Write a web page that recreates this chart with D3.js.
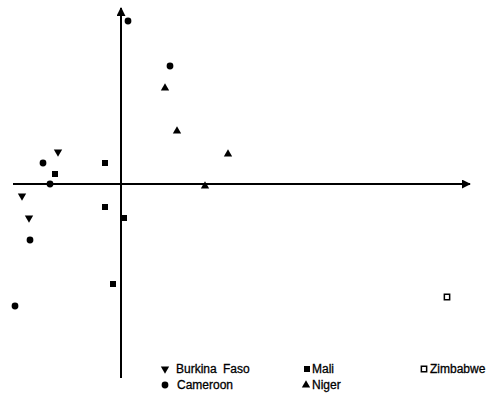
<!DOCTYPE html>
<html>
<head>
<meta charset="utf-8">
<script src="https://cdn.jsdelivr.net/npm/d3@7"></script>
<style>
  body { margin: 0; background: #fff; }
  text { font-family: "Liberation Sans", Arial, sans-serif; }
</style>
</head>
<body>
<div id="chart"></div>
<script>
// factor scores per country (dimensionless)
const burkina = [[-0.63, 0.32], [-0.99, -0.12], [-0.92, -0.34]];
const cameroon = [[0.07, 1.63], [0.49, 1.18], [-0.78, 0.21], [-0.71, 0.0], [-0.91, -0.56], [-1.06, -1.22]];
const mali = [[-0.66, 0.10], [-0.16, 0.21], [-0.16, -0.23], [0.03, -0.34], [-0.08, -1.00]];
const niger = [[0.44, 0.96], [0.56, 0.53], [1.07, 0.30], [0.84, -0.02]];
const zimbabwe = [[3.26, -1.13]];

const countries = ["Burkina Faso", "Cameroon", "Mali", "Niger", "Zimbabwe"];
const seriesData = [burkina, cameroon, mali, niger, zimbabwe];

const ctx = { w: 500, h: 398 };

const svg = d3.select("#chart").append("svg")
    .attr("width", ctx.w).attr("height", ctx.h);

const x = d3.scaleLinear().domain([-1.08, 3.49]).range([13, 470]);
const y = d3.scaleLinear().domain([-1.94, 1.76]).range([378, 8]);

// arrowheads
svg.append("defs").append("marker")
    .attr("id", "arrow")
    .attr("viewBox", "0 0 10 10")
    .attr("refX", 9).attr("refY", 5)
    .attr("markerWidth", 4.5).attr("markerHeight", 4.5)
    .attr("markerUnits", "strokeWidth")
    .attr("orient", "auto")
  .append("path")
    .attr("d", "M0,0 L10,5 L0,10 z")
    .attr("fill", "#000");

// axes through the origin
svg.append("line")
    .attr("x1", x(-1.08)).attr("x2", x(3.49))
    .attr("y1", y(0)).attr("y2", y(0))
    .attr("stroke", "#000").attr("stroke-width", 2)
    .attr("marker-end", "url(#arrow)");
svg.append("line")
    .attr("x1", x(0)).attr("x2", x(0))
    .attr("y1", y(-1.94)).attr("y2", y(1.76))
    .attr("stroke", "#000").attr("stroke-width", 2)
    .attr("marker-end", "url(#arrow)");

const symTypes = [d3.symbolTriangle, d3.symbolCircle, d3.symbolSquare, d3.symbolTriangle, d3.symbolSquare];
const symSizes = [30, 36, 36, 30, 28];
const symRotate = [180, 0, 0, 0, 0];
const symFill = ["#000", "#000", "#000", "#000", "#fff"];

function drawSym(g, i, px, py) {
    g.append("path")
        .attr("d", d3.symbol().type(symTypes[i]).size(symSizes[i])())
        .attr("transform", "translate(" + px + "," + py + ") rotate(" + symRotate[i] + ")")
        .attr("fill", symFill[i])
        .attr("stroke", "#000")
        .attr("stroke-width", i == 4 ? 1.5 : 0);
}

const pts = svg.append("g");
seriesData.forEach(function(arr, i) {
    arr.forEach(function(d) {
        drawSym(pts, i, x(d[0]), y(d[1]));
    });
});

// legend
const legPos = [[165, 373], [165, 389], [307, 373], [306, 389], [424, 373]];
const legGap = [11, 12, 5, 6, 6];
const legend = svg.append("g");
countries.forEach(function(name, i) {
    const lx = legPos[i][0], ly = legPos[i][1];
    drawSym(legend, i, lx, ly - 4);
    legend.append("text")
        .attr("x", lx + legGap[i])
        .attr("y", ly)
        .attr("font-size", "12px")
        .attr("stroke", "#000").attr("stroke-width", 0.3)
        .attr("word-spacing", i == 0 ? "3px" : "0px")
        .text(name);
});
</script>
</body>
</html>
